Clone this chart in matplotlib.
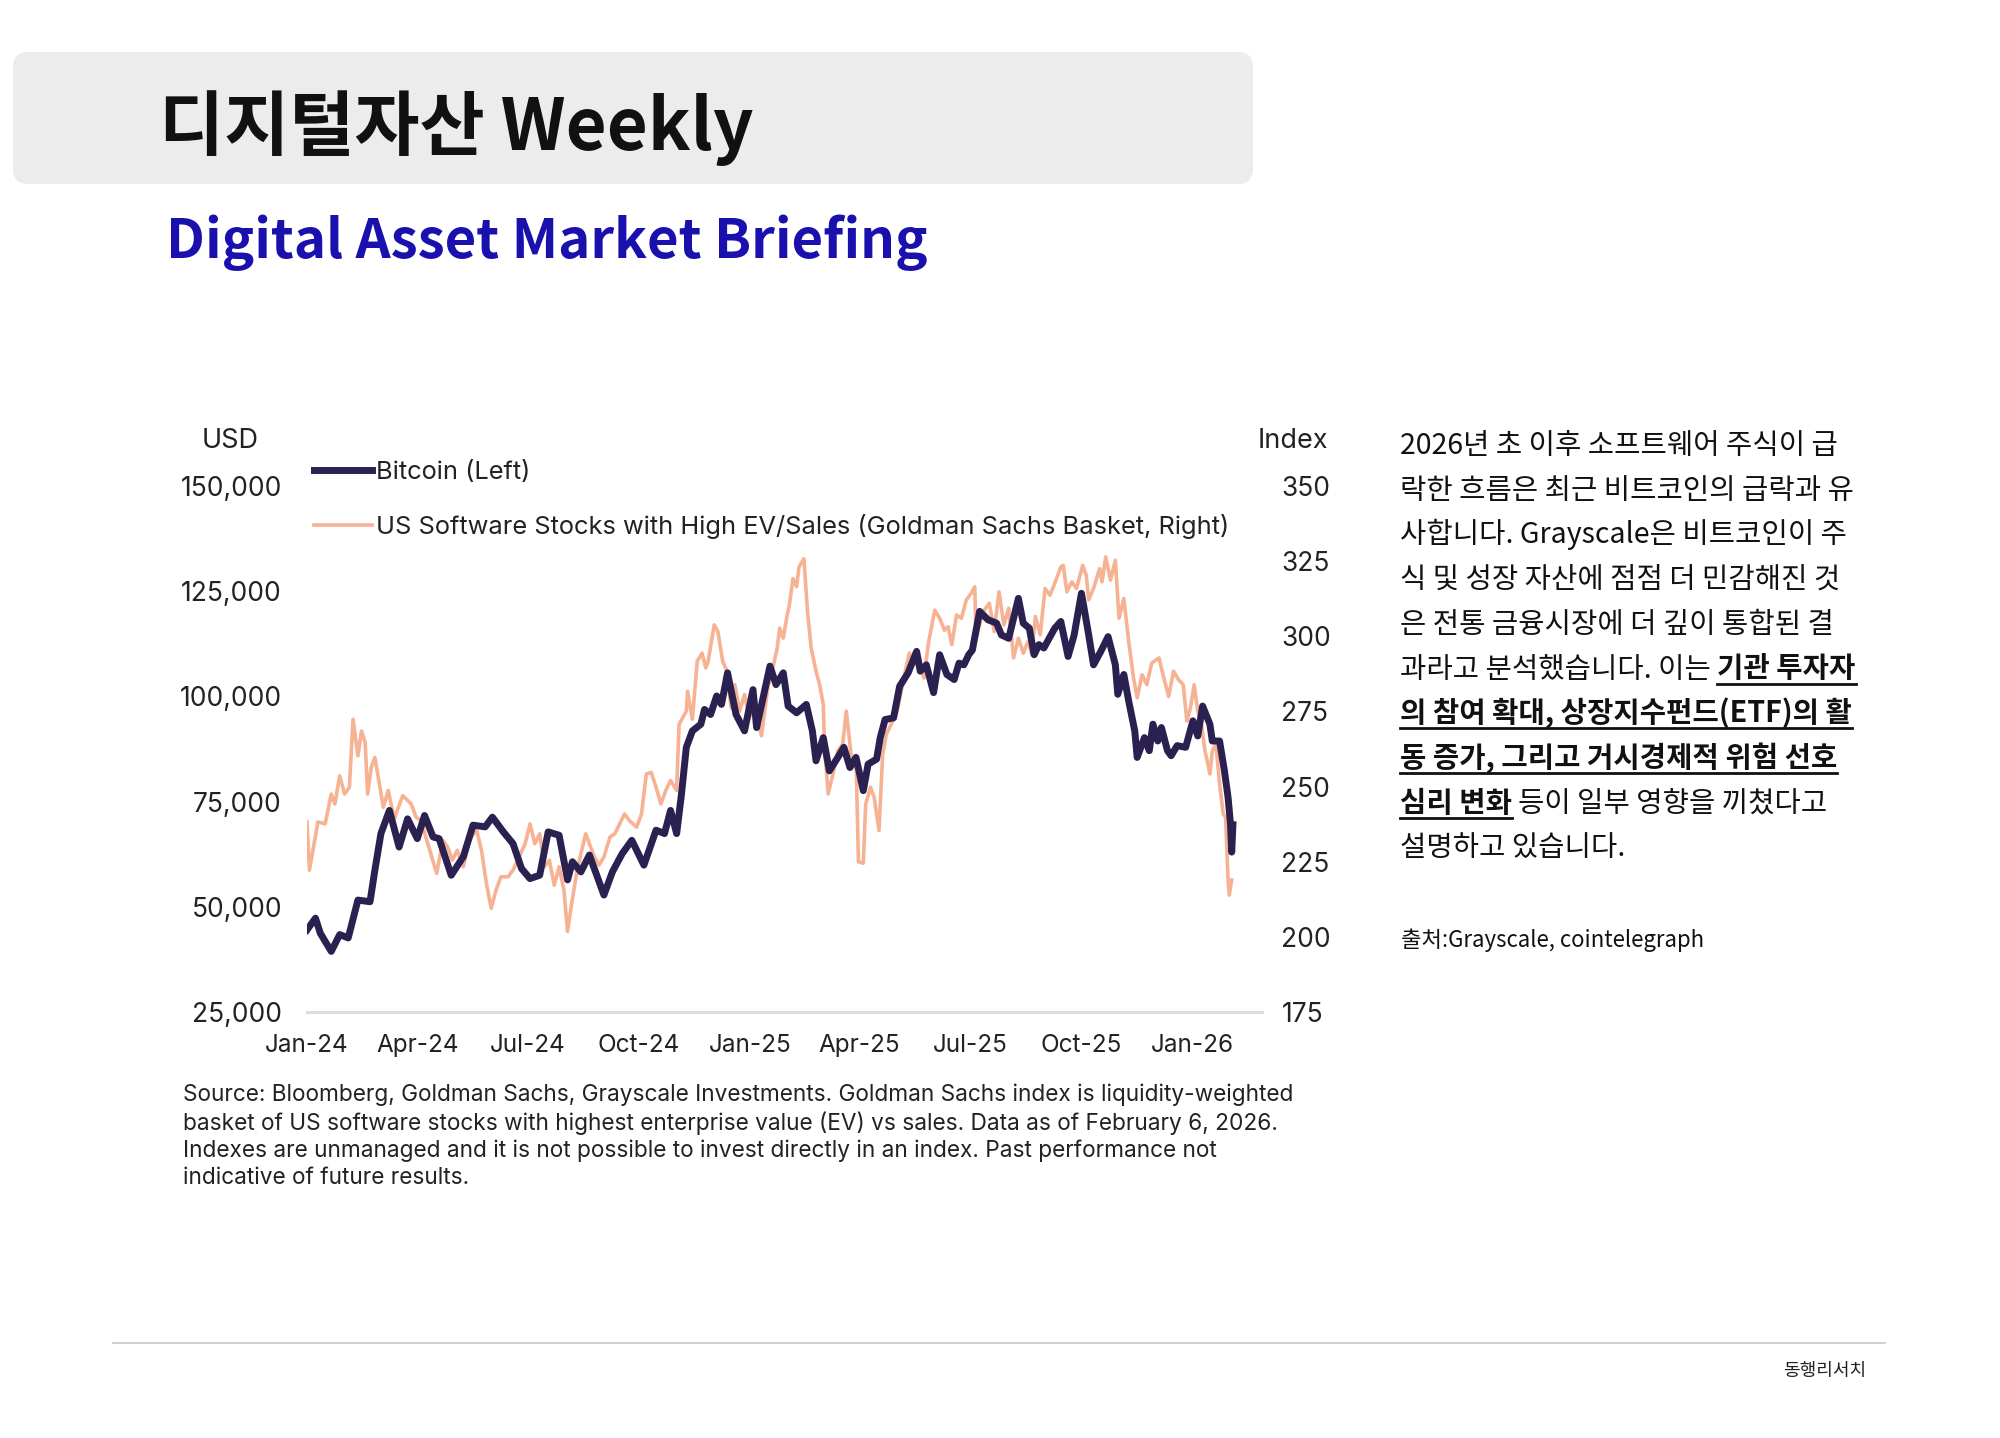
import matplotlib
matplotlib.use("Agg")
import matplotlib.pyplot as plt
from matplotlib.patches import FancyBboxPatch
from matplotlib.lines import Line2D
from matplotlib.ticker import FuncFormatter
import pandas as pd

# ---- data ----
btc_dates = [
    "2024-01-01", "2024-01-08", "2024-01-12", "2024-01-21", "2024-01-28", "2024-02-04",
    "2024-02-12", "2024-02-22", "2024-02-26", "2024-03-02", "2024-03-09", "2024-03-17",
    "2024-03-24", "2024-04-01", "2024-04-07", "2024-04-14", "2024-04-19", "2024-04-29",
    "2024-05-09", "2024-05-17", "2024-05-27", "2024-06-02", "2024-06-11", "2024-06-19",
    "2024-06-26", "2024-07-03", "2024-07-11", "2024-07-18", "2024-07-27", "2024-08-03",
    "2024-08-07", "2024-08-14", "2024-08-21", "2024-09-02", "2024-09-09", "2024-09-17",
    "2024-09-25", "2024-10-05", "2024-10-15", "2024-10-22", "2024-10-27", "2024-11-01",
    "2024-11-05", "2024-11-09", "2024-11-14", "2024-11-21", "2024-11-24", "2024-11-29",
    "2024-12-04", "2024-12-08", "2024-12-13", "2024-12-20", "2024-12-27", "2025-01-03",
    "2025-01-06", "2025-01-17", "2025-01-22", "2025-01-28", "2025-02-01", "2025-02-08",
    "2025-02-16", "2025-02-21", "2025-02-24", "2025-03-02", "2025-03-07", "2025-03-14",
    "2025-03-19", "2025-03-24", "2025-03-29", "2025-04-04", "2025-04-08", "2025-04-15",
    "2025-04-18", "2025-04-22", "2025-04-29", "2025-05-04", "2025-05-11", "2025-05-18",
    "2025-05-21", "2025-05-26", "2025-06-01", "2025-06-06", "2025-06-12", "2025-06-18",
    "2025-06-22", "2025-06-26", "2025-06-30", "2025-07-03", "2025-07-09", "2025-07-16",
    "2025-07-23", "2025-07-27", "2025-08-02", "2025-08-10", "2025-08-14", "2025-08-19",
    "2025-08-23", "2025-08-27", "2025-08-31", "2025-09-09", "2025-09-14", "2025-09-20",
    "2025-09-25", "2025-10-01", "2025-10-03", "2025-10-07", "2025-10-11", "2025-10-17",
    "2025-10-23", "2025-10-29", "2025-10-31", "2025-11-05", "2025-11-09", "2025-11-14",
    "2025-11-16", "2025-11-22", "2025-11-26", "2025-11-29", "2025-12-03", "2025-12-06",
    "2025-12-11", "2025-12-14", "2025-12-19", "2025-12-26", "2026-01-01", "2026-01-05",
    "2026-01-09", "2026-01-15", "2026-01-17", "2026-01-23", "2026-01-27", "2026-01-30",
    "2026-02-01", "2026-02-02", "2026-02-03",
]
btc_values = [
    44500, 47300, 43700, 39400, 43400, 42600,
    51600, 51200, 58700, 67400, 72900, 64200,
    70900, 66200, 71700, 66600, 66200, 57500,
    61900, 69400, 69000, 71300, 67800, 65000,
    59100, 56700, 57500, 67800, 67000, 56400,
    60700, 58300, 62300, 52800, 58300, 62600,
    65800, 59900, 68200, 67400, 72900, 67400,
    76800, 87900, 91800, 93400, 96900, 95700,
    100100, 98100, 105600, 95700, 91800, 101600,
    92600, 107200, 102800, 105600, 97700, 96100,
    98100, 91800, 84700, 90200, 82300, 85500,
    87900, 83100, 85500, 77600, 83900, 85100,
    90200, 94500, 94900, 102400, 105600, 110700,
    106000, 107500, 100900, 109900, 105200, 104000,
    107900, 107500, 109900, 111000, 120200, 118200,
    117400, 114600, 113800, 123300, 117400, 116200,
    109900, 112300, 111500, 116200, 117800, 109500,
    114600, 124500, 121300, 114600, 107500, 110700,
    114200, 107500, 100500, 105200, 98900, 91800,
    85500, 90200, 87100, 93400, 89400, 92600,
    87100, 85900, 88300, 87900, 94200, 90600,
    97700, 93400, 89400, 89400, 82300, 76000,
    69700, 63000, 69500,
]

sw_dates = [
    "2024-01-01", "2024-01-03", "2024-01-10", "2024-01-16", "2024-01-21", "2024-01-24",
    "2024-01-28", "2024-02-01", "2024-02-05", "2024-02-08", "2024-02-12", "2024-02-15",
    "2024-02-18", "2024-02-20", "2024-02-23", "2024-02-26", "2024-03-04", "2024-03-08",
    "2024-03-13", "2024-03-20", "2024-03-27", "2024-03-31", "2024-04-04", "2024-04-17",
    "2024-04-22", "2024-04-26", "2024-04-30", "2024-05-04", "2024-05-09", "2024-05-14",
    "2024-05-20", "2024-05-24", "2024-05-28", "2024-06-01", "2024-06-05", "2024-06-09",
    "2024-06-15", "2024-06-19", "2024-06-29", "2024-07-03", "2024-07-07", "2024-07-11",
    "2024-07-15", "2024-07-19", "2024-07-23", "2024-07-27", "2024-07-31", "2024-08-03",
    "2024-08-06", "2024-08-10", "2024-08-14", "2024-08-18", "2024-08-22", "2024-08-25",
    "2024-08-29", "2024-09-02", "2024-09-07", "2024-09-11", "2024-09-15", "2024-09-19",
    "2024-09-23", "2024-09-29", "2024-10-03", "2024-10-07", "2024-10-11", "2024-10-15",
    "2024-10-19", "2024-10-23", "2024-10-27", "2024-11-01", "2024-11-03", "2024-11-09",
    "2024-11-10", "2024-11-14", "2024-11-18", "2024-11-22", "2024-11-25", "2024-11-27",
    "2024-12-02", "2024-12-05", "2024-12-09", "2024-12-12", "2024-12-16", "2024-12-19",
    "2024-12-23", "2024-12-27", "2024-12-31", "2025-01-04", "2025-01-10", "2025-01-15",
    "2025-01-19", "2025-01-23", "2025-01-25", "2025-01-28", "2025-01-31", "2025-02-02",
    "2025-02-05", "2025-02-08", "2025-02-10", "2025-02-14", "2025-02-17", "2025-02-20",
    "2025-02-24", "2025-02-27", "2025-03-02", "2025-03-03", "2025-03-06", "2025-03-10",
    "2025-03-14", "2025-03-18", "2025-03-21", "2025-03-24", "2025-03-26", "2025-03-29",
    "2025-03-31", "2025-04-04", "2025-04-06", "2025-04-10", "2025-04-13", "2025-04-17",
    "2025-04-20", "2025-04-23", "2025-04-27", "2025-05-02", "2025-05-08", "2025-05-12",
    "2025-05-16", "2025-05-20", "2025-05-24", "2025-05-28", "2025-06-02", "2025-06-06",
    "2025-06-10", "2025-06-13", "2025-06-16", "2025-06-20", "2025-06-24", "2025-06-28",
    "2025-07-02", "2025-07-05", "2025-07-06", "2025-07-12", "2025-07-17", "2025-07-21",
    "2025-07-25", "2025-07-29", "2025-08-02", "2025-08-06", "2025-08-10", "2025-08-14",
    "2025-08-18", "2025-08-21", "2025-08-24", "2025-08-28", "2025-09-01", "2025-09-05",
    "2025-09-09", "2025-09-14", "2025-09-16", "2025-09-19", "2025-09-23", "2025-09-27",
    "2025-10-02", "2025-10-05", "2025-10-07", "2025-10-11", "2025-10-16", "2025-10-18",
    "2025-10-21", "2025-10-25", "2025-10-29", "2025-11-01", "2025-11-05", "2025-11-09",
    "2025-11-13", "2025-11-16", "2025-11-20", "2025-11-24", "2025-11-28", "2025-12-04",
    "2025-12-08", "2025-12-12", "2025-12-16", "2025-12-20", "2025-12-24", "2025-12-27",
    "2025-12-30", "2026-01-02", "2026-01-05", "2026-01-08", "2026-01-11", "2026-01-15",
    "2026-01-17", "2026-01-20", "2026-01-23", "2026-01-26", "2026-01-28", "2026-01-30",
    "2026-01-31", "2026-02-02",
]
sw_values = [
    238.2, 222.2, 238.2, 237.6, 247.5, 244.2,
    253.6, 247.5, 249.8, 272.4, 260.2, 268.5,
    264.6, 247.5, 256.4, 259.7, 243.1, 248.7,
    239.3, 247.0, 244.2, 239.8, 238.7, 221.1,
    232.1, 229.9, 225.5, 228.8, 223.3, 232.7,
    235.4, 228.8, 217.8, 209.5, 215.6, 220.0,
    220.0, 222.2, 231.0, 237.6, 231.0, 234.3,
    223.3, 225.5, 217.2, 223.3, 215.6, 201.8,
    210.1, 220.0, 227.7, 234.3, 229.9, 226.6,
    223.9, 226.6, 233.2, 234.3, 237.6, 240.9,
    238.7, 236.5, 240.9, 254.2, 254.7, 249.8,
    244.2, 248.7, 252.0, 248.7, 270.7, 275.1,
    281.7, 272.4, 291.7, 294.4, 289.5, 291.7,
    303.8, 301.6, 291.7, 288.9, 276.2, 283.9,
    275.1, 280.6, 272.9, 277.9, 266.9, 282.3,
    288.9, 296.1, 302.7, 299.4, 306.6, 310.4,
    319.2, 316.5, 323.1, 325.8, 308.2, 296.1,
    288.4, 283.9, 277.3, 264.1, 247.5, 254.2,
    261.9, 264.1, 275.1, 264.1, 256.4, 259.7,
    225.0, 224.5, 244.2, 249.8, 246.4, 235.4,
    260.8, 267.4, 270.7, 275.1, 287.2, 294.4,
    290.6, 293.3, 286.1, 298.3, 308.7, 306.0,
    302.0, 303.2, 297.2, 307.1, 306.0, 312.1,
    314.3, 316.5, 299.4, 308.2, 311.0, 301.6,
    314.8, 303.8, 309.3, 292.8, 299.4, 294.4,
    298.3, 294.0, 306.6, 300.5, 315.9, 313.7,
    317.6, 323.1, 323.6, 314.8, 318.1, 315.9,
    323.6, 320.3, 312.1, 315.9, 322.5, 318.1,
    326.4, 318.7, 325.3, 306.0, 312.6, 298.3,
    286.1, 279.5, 287.2, 283.9, 291.1, 292.8,
    286.1, 280.0, 288.4, 285.6, 283.9, 271.8,
    276.2, 283.9, 275.1, 270.7, 261.9, 254.2,
    261.9, 264.1, 250.9, 240.9, 239.8, 218.9,
    213.9, 218.9,
]

left_ticks = [25000, 50000, 75000, 100000, 125000, 150000]
right_ticks = [175, 200, 225, 250, 275, 300, 325, 350]
x_ticks = ["2024-01-01", "2024-04-01", "2024-07-01", "2024-10-01", "2025-01-01",
           "2025-04-01", "2025-07-01", "2025-10-01", "2026-01-01"]
x_labels = ["Jan-24", "Apr-24", "Jul-24", "Oct-24", "Jan-25", "Apr-25", "Jul-25", "Oct-25", "Jan-26"]

btc_label = "Bitcoin (Left)"
sw_label = "US Software Stocks with High EV/Sales (Goldman Sachs Basket, Right)"

source_lines = [
    "Source: Bloomberg, Goldman Sachs, Grayscale Investments. Goldman Sachs index is liquidity-weighted",
    "basket of US software stocks with highest enterprise value (EV) vs sales. Data as of February 6, 2026.",
    "Indexes are unmanaged and it is not possible to invest directly in an index. Past performance not",
    "indicative of future results.",
]

# (text, bold) segments per line of the commentary
body_lines = [
    [("2026년 초 이후 소프트웨어 주식이 급", False)],
    [("락한 흐름은 최근 비트코인의 급락과 유", False)],
    [("사합니다. Grayscale은 비트코인이 주", False)],
    [("식 및 성장 자산에 점점 더 민감해진 것", False)],
    [("은 전통 금융시장에 더 깊이 통합된 결", False)],
    [("과라고 분석했습니다. 이는", False), ("기관 투자자", True)],
    [("의 참여 확대, 상장지수펀드(ETF)의 활", True)],
    [("동 증가, 그리고 거시경제적 위험 선호", True)],
    [("심리 변화", True), ("등이 일부 영향을 끼쳤다고", False)],
    [("설명하고 있습니다.", False)],
]

KR = ["Noto Sans CJK KR", "DejaVu Sans"]
LAT = ["Inter", "DejaVu Sans"]
TXT = "#222222"

W, H = 2000, 1438
fig = plt.figure(figsize=(W / 100, H / 100), dpi=100)
fig.patch.set_facecolor("white")


def fx(px):
    return px / W


def fy(py):
    return 1 - py / H


# header box + titles
box = FancyBboxPatch((fx(13), fy(184)), fx(1240), 132 / H,
                     boxstyle="round,pad=0,rounding_size=0.0075",
                     mutation_aspect=W / H, transform=fig.transFigure,
                     facecolor="#ececec", edgecolor="none")
fig.patches.append(box)
fig.text(fx(159), fy(128), "디지털자산 Weekly", family=KR, fontsize=51,
         fontweight="bold", color="#111111", va="center", ha="left")
fig.text(fx(166), fy(243), "Digital Asset Market Briefing", family=KR, fontsize=39.3,
         fontweight="bold", color="#1a10ae", va="center", ha="left")

# chart
ax = fig.add_axes([fx(307), fy(1012), fx(955), 526 / H])
ax2 = ax.twinx()

bd = pd.to_datetime(btc_dates)
sd = pd.to_datetime(sw_dates)
l2, = ax2.plot(sd, sw_values, color="#f6b293", lw=2.6, label=sw_label, zorder=2)
l1, = ax2.plot([], [], color="#2b2150", lw=5, label=btc_label)
ax3 = ax.twinx()  # BTC drawn above the index line
ax3.plot(bd, btc_values, color="#2b2150", lw=5, zorder=3, solid_joinstyle="round")
ax3.set_ylim(25000, 150000)
ax3.set_yticks([])
for s in ax3.spines.values():
    s.set_visible(False)

ax.set_ylim(25000, 150000)
ax2.set_ylim(175, 350)
ax.set_xlim(pd.Timestamp("2024-01-01"), pd.Timestamp("2026-02-27"))

ax.set_yticks(left_ticks)
ax.yaxis.set_major_formatter(FuncFormatter(lambda v, p: f"{v:,.0f}"))
ax2.set_yticks(right_ticks)
ax.set_xticks(pd.to_datetime(x_ticks))
ax.set_xticklabels(x_labels)

for a in (ax, ax2):
    for s in a.spines.values():
        s.set_visible(False)
ax.spines["bottom"].set_visible(True)
ax.spines["bottom"].set_color("#dddddd")
ax.spines["bottom"].set_linewidth(2.2)

ax.tick_params(axis="y", length=0, pad=18, labelsize=19, labelcolor=TXT)
ax2.tick_params(axis="y", length=0, pad=14, labelsize=19, labelcolor=TXT)
ax.tick_params(axis="x", length=0, pad=16, labelsize=17.5, labelcolor=TXT)
for lab in ax.get_xticklabels() + ax.get_yticklabels() + ax2.get_yticklabels():
    lab.set_family(LAT)

fig.text(fx(230), fy(441), "USD", family=LAT, fontsize=19.5, color=TXT, ha="center", va="center")
fig.text(fx(1293), fy(441), "Index", family=LAT, fontsize=19.5, color=TXT, ha="center", va="center")

leg = ax3.legend(handles=[l1, l2], loc="upper left", bbox_to_anchor=(fx(314), fy(461)),
                 bbox_transform=fig.transFigure, frameon=False,
                 handlelength=2.3, handletextpad=0.12, labelspacing=1.18,
                 borderpad=0, borderaxespad=0, prop={"family": LAT, "size": 18.3})
for t in leg.get_texts():
    t.set_color(TXT)

fig.text(fx(183), fy(1083), "\n".join(source_lines), family=LAT, fontsize=16.3,
         color=TXT, ha="left", va="top", linespacing=1.3)

# commentary block with bold / underlined parts
r = fig.canvas.get_renderer()
BODY = 20.6
probe_a = fig.text(0, 0, "가 나", family=KR, fontsize=BODY)
probe_b = fig.text(0, 0, "가나", family=KR, fontsize=BODY)
space_w = (probe_a.get_window_extent(r).width - probe_b.get_window_extent(r).width) / W
probe_a.remove()
probe_b.remove()

x0 = fx(1400)
base0 = 454
step = 44.7
for i, segs in enumerate(body_lines):
    y = fy(base0 + i * step)
    cx = x0
    for j, (s, bold) in enumerate(segs):
        if j > 0:
            cx += space_w
        t = fig.text(cx, y, s, family=KR, fontsize=BODY, color="#111111",
                     fontweight="bold" if bold else "normal", ha="left", va="baseline")
        w = t.get_window_extent(r).width / W
        if bold:
            fig.lines.append(Line2D([cx, cx + w], [y - 6 / H] * 2, color="#111111",
                                    lw=2.0, transform=fig.transFigure))
        cx += w

fig.text(fx(1401), fy(940), "출처:Grayscale, cointelegraph", family=KR, fontsize=16,
         color="#111111", ha="left", va="center")

# footer
fig.lines.append(Line2D([fx(113), fx(1885)], [fy(1343)] * 2, color="#cccccc", lw=1.3,
                        transform=fig.transFigure))
fig.text(fx(1866), fy(1371), "동행리서치", family=KR, fontsize=13, color="#222222",
         ha="right", va="center")

fig.savefig("out.png", dpi=100)
